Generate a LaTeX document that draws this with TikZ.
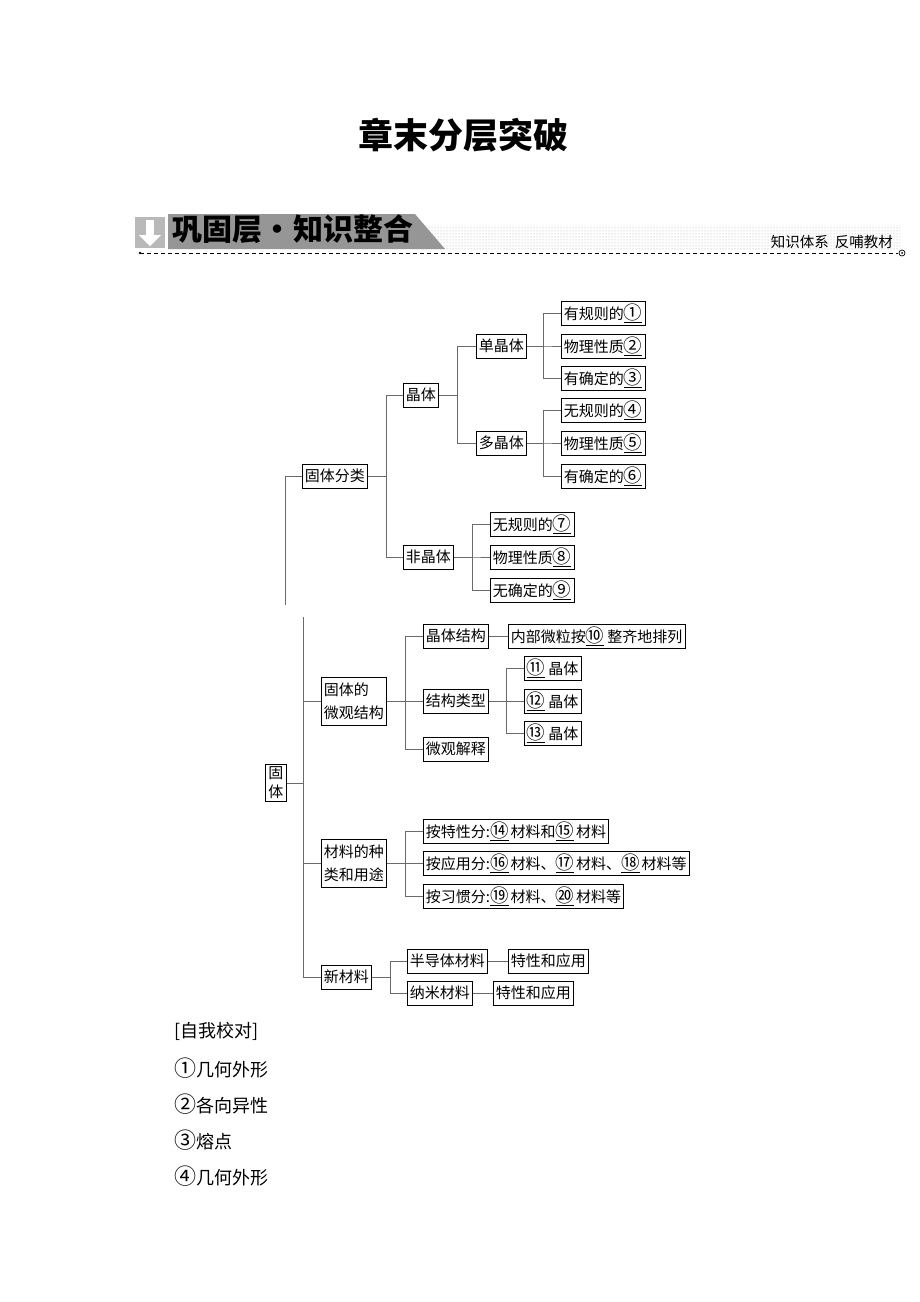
\documentclass[tikz,border=0pt]{standalone}
\usepackage{fontspec}
\setmainfont{Noto Sans CJK SC}
\usetikzlibrary{patterns}
\definecolor{treeline}{RGB}{105,105,110}
\definecolor{bandgray}{RGB}{150,150,150}
\definecolor{arrowgray}{RGB}{185,185,185}
\newcommand{\cn}[1]{{\fontsize{18.5}{18}\selectfont #1}}
\newcommand{\bk}[1]{\underline{\cn{#1}}}
\newcommand{\cnb}[1]{{\fontsize{22}{22}\selectfont #1}}
\begin{document}
\begin{tikzpicture}[x=1pt,y=-1pt,
  box/.style={draw=black, line width=0.8pt, inner xsep=2.5pt, inner ysep=0pt,
    minimum height=24pt, font=\fontsize{15}{18}\selectfont, anchor=west, fill=white},
  box2/.style={box, align=left, minimum height=48pt, font=\fontsize{15}{23}\selectfont},
  tl/.style={draw=treeline, line width=0.8pt},
  plain/.style={inner sep=0pt, anchor=west, font=\fontsize{18}{22}\selectfont}]
\useasboundingbox (0,0) rectangle (920,1302);
\fill[white] (0,0) rectangle (920,1302);

% ---------- title ----------
\node[inner sep=0pt, font=\fontsize{35}{40}\selectfont\bfseries] (title) at (463,135) {章末分层突破};

% ---------- banner ----------
\fill[pattern=dots, pattern color=gray!70] (415,225) rectangle (900,250);
\fill[arrowgray] (135,217) rectangle (165,248);
\fill[white] (146,220) rectangle (154,235);
\fill[white] (139,235) -- (161,235) -- (150,246) -- cycle;
\fill[bandgray] (168,214) -- (415,214) -- (445,249) -- (168,249) -- cycle;
\node[inner sep=0pt, font=\fontsize{30}{36}\selectfont\bfseries] (band) at (293,229) {巩固层\hspace{1pt}·\hspace{1pt}知识整合};
\node[inner sep=0pt, anchor=east, font=\fontsize{14.5}{17}\selectfont] (sub) at (893,242) {知识体系\hspace{6pt}反哺教材};
\coordinate (dl) at (140,253);
\coordinate (dr) at (898,253);
\draw[dashed, line width=0.8pt, dash pattern=on 4pt off 3pt] (dl) -- (dr);
\fill (dl) circle (1.3);
\draw[line width=0.7pt] (902,253) circle (3);
\fill (902,253) circle (1);

% ---------- top tree ----------
\node[box] (fenlei) at (302,476) {固体分类};
\node[box] (jingti) at (403,395) {晶体};
\node[box] (feijt) at (403,557) {非晶体};
\node[box] (danjt) at (476,346) {单晶体};
\node[box] (duojt) at (476,443) {多晶体};
\node[box] (a1) at (561,313) {有规则的\bk{①}};
\node[box] (a2) at (561,346) {物理性质\bk{②}};
\node[box] (a3) at (561,378) {有确定的\bk{③}};
\node[box] (a4) at (561,410) {无规则的\bk{④}};
\node[box] (a5) at (561,443) {物理性质\bk{⑤}};
\node[box] (a6) at (561,476) {有确定的\bk{⑥}};
\node[box] (a7) at (490,524) {无规则的\bk{⑦}};
\node[box] (a8) at (490,557) {物理性质\bk{⑧}};
\node[box] (a9) at (490,590) {无确定的\bk{⑨}};

\coordinate (topend) at (285,605);
\coordinate (s1) at (386,0);
\coordinate (s2) at (457,0);
\coordinate (s3) at (543,0);
\coordinate (s4) at (472,0);
\draw[tl] (fenlei.west) -| (topend);
\foreach \c in {jingti,feijt} \draw[tl] (fenlei.east) -- (fenlei.east -| s1) |- (\c.west);
\foreach \c in {danjt,duojt} \draw[tl] (jingti.east) -- (jingti.east -| s2) |- (\c.west);
\foreach \c in {a1,a2,a3} \draw[tl] (danjt.east) -- (danjt.east -| s3) |- (\c.west);
\foreach \c in {a4,a5,a6} \draw[tl] (duojt.east) -- (duojt.east -| s3) |- (\c.west);
\foreach \c in {a7,a8,a9} \draw[tl] (feijt.east) -- (feijt.east -| s4) |- (\c.west);

% ---------- bottom tree ----------
\node[box, align=center, inner xsep=3pt, minimum height=37pt, font=\fontsize{15}{19}\selectfont] (guti) at (265,783) {固\\体};
\node[box2] (weiguan) at (321,701) {固体的\\微观结构};
\node[box2] (cailiao) at (321,863) {材料的种\\类和用途};
\node[box] (xincl) at (321,977) {新材料};

\node[box] (jtjg) at (423,636) {晶体结构};
\node[box] (neibu) at (508,636) {内部微粒按\bk{⑩}\hspace{3pt}整齐地排列};
\node[box] (jglx) at (423,701) {结构类型};
\node[box] (wgjs) at (423,749) {微观解释};
\node[box] (b11) at (524,668) {\bk{⑪}\hspace{3pt}晶体};
\node[box] (b12) at (524,701) {\bk{⑫}\hspace{3pt}晶体};
\node[box] (b13) at (524,733) {\bk{⑬}\hspace{3pt}晶体};

\node[box] (c1) at (423,831) {按特性分:\bk{⑭}\hspace{2pt}材料和\bk{⑮}\hspace{2pt}材料};
\node[box] (c2) at (423,863) {按应用分:\bk{⑯}\hspace{2pt}材料、\bk{⑰}\hspace{2pt}材料、\bk{⑱}\hspace{2pt}材料等};
\node[box] (c3) at (423,896) {按习惯分:\bk{⑲}\hspace{2pt}材料、\bk{⑳}\hspace{2pt}材料等};

\node[box] (bdt) at (407,961) {半导体材料};
\node[box] (tx1) at (508,961) {特性和应用};
\node[box] (nami) at (407,993) {纳米材料};
\node[box] (tx2) at (493,993) {特性和应用};

\coordinate (botstart) at (303,617);
\coordinate (t1) at (405,0);
\coordinate (t2) at (506,0);
\coordinate (t3) at (390,0);
\draw[tl] (botstart) |- (xincl.west);
\draw[tl] (guti.east) -- (guti.east -| botstart);
\draw[tl] (weiguan.west) -- (weiguan.west -| botstart);
\draw[tl] (cailiao.west) -- (cailiao.west -| botstart);
\foreach \c in {jtjg,jglx,wgjs} \draw[tl] (weiguan.east) -- (weiguan.east -| t1) |- (\c.west);
\draw[tl] (jtjg.east) -- (neibu.west);
\foreach \c in {b11,b12,b13} \draw[tl] (jglx.east) -- (jglx.east -| t2) |- (\c.west);
\foreach \c in {c1,c2,c3} \draw[tl] (cailiao.east) -- (cailiao.east -| t1) |- (\c.west);
\foreach \c in {bdt,nami} \draw[tl] (xincl.east) -- (xincl.east -| t3) |- (\c.west);
\draw[tl] (bdt.east) -- (tx1.west);
\draw[tl] (nami.east) -- (tx2.west);

% ---------- answers ----------
\node[plain] (z0) at (174,1031) {[自我校对]};
\node[plain] (z1) at (174,1068) {\cnb{①}几何外形};
\node[plain] (z2) at (174,1104) {\cnb{②}各向异性};
\node[plain] (z3) at (174,1140) {\cnb{③}熔点};
\node[plain] (z4) at (174,1176) {\cnb{④}几何外形};
\end{tikzpicture}
\end{document}
